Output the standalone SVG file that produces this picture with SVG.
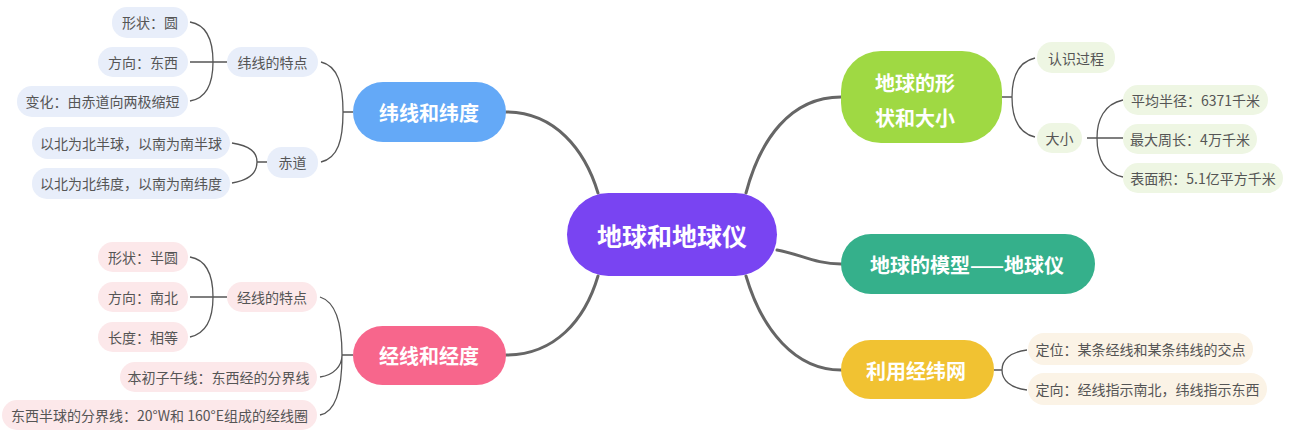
<svg xmlns="http://www.w3.org/2000/svg" width="1290" height="432" viewBox="0 0 1290 432">
<style>
text{font-family:"Noto Sans CJK SC","Noto Sans",sans-serif;text-anchor:middle;dominant-baseline:central}
.main{fill:#fff;font-weight:bold}
.sub{fill:#555;font-size:14px}
.c1{fill:none;stroke:#666;stroke-width:3;stroke-linecap:round}
.c2{fill:none;stroke:#555;stroke-width:1.3}
.pb{fill:#e8eefa}
.pp{fill:#fce8ea}
.pg{fill:#eef6e3}
.py{fill:#fbf3e6}
</style>
<rect width="1290" height="432" fill="#fff"/>
<g id="connectors">
<path class="c1" d="M506,112 C555,112 585,150 598,193"/>
<path class="c1" d="M598,276 C585,320 555,355 506,355"/>
<path class="c1" d="M746,193 C760,140 790,97 841,97"/>
<path class="c1" d="M777,250 C800,254 815,264 841,264"/>
<path class="c1" d="M746,276 C762,330 795,370 841,370"/>
<path class="c2" d="M353,112 L343,112 M321,62 C338,66 343,85 343,112 C343,140 338,158 321,162"/>
<path class="c2" d="M227,62 L190,62 M190,22 C208,25 213,42 213,62 C213,82 208,98 190,101"/>
<path class="c2" d="M267,162 L257,162 M232,143 C250,146 257,152 257,162 C257,172 250,180 232,183"/>
<path class="c2" d="M353,355 L342,355 M320,297 C336,302 342,325 342,355 M320,377 C334,375 342,366 342,355 M320,415 C336,412 342,390 342,355"/>
<path class="c2" d="M227,297 L190,297 M190,257 C208,260 213,277 213,297 C213,317 208,333 190,337"/>
<path class="c2" d="M1002,97 L1012,97 M1035,58 C1018,62 1012,78 1012,97 C1012,117 1018,133 1035,137"/>
<path class="c2" d="M1087,138 L1123,138 M1123,100 C1104,104 1097,120 1097,138 C1097,157 1104,173 1123,177"/>
<path class="c2" d="M994,370 L1002,370 M1027,350 C1010,352 1002,360 1002,370 C1002,380 1010,388 1027,390"/>
</g>
<g id="center">
<rect x="567" y="193" width="210" height="83" rx="41.5" fill="#7944f2"/>
<text class="main" x="672" y="235" font-size="25">地球和地球仪</text>
</g>
<g id="n-weixian">
<rect x="353" y="82" width="153" height="60" rx="30" fill="#64a9f7"/>
<text class="main" x="429" y="112" font-size="20">纬线和纬度</text>
</g>
<g id="n-jingxian">
<rect x="353" y="326" width="153" height="59" rx="29.5" fill="#f7668c"/>
<text class="main" x="429" y="355" font-size="20">经线和经度</text>
</g>
<g id="n-shape">
<rect x="841" y="51" width="161" height="92" rx="40" fill="#9fd943"/>
<text class="main" x="915" y="82" font-size="20">地球的形</text>
<text class="main" x="915" y="117" font-size="20">状和大小</text>
</g>
<g id="n-model">
<rect x="841" y="234" width="254" height="60" rx="30" fill="#35b08b"/>
<text class="main" x="967" y="264" font-size="20">地球的模型——地球仪</text>
</g>
<g id="n-grid">
<rect x="841" y="340" width="153" height="59" rx="29.5" fill="#f1c232"/>
<text class="main" x="916" y="370" font-size="20">利用经纬网</text>
</g>
<g id="n-wx-td">
<rect class="pb" x="227" y="47" width="91" height="30" rx="15"/>
<text class="sub" x="272.5" y="62">纬线的特点</text>
</g>
<g id="n-wx-shape">
<rect class="pb" x="112" y="7" width="76" height="31" rx="15"/>
<text class="sub" x="150" y="22">形状：圆</text>
</g>
<g id="n-wx-dir">
<rect class="pb" x="98" y="47" width="90" height="30" rx="15"/>
<text class="sub" x="143" y="62">方向：东西</text>
</g>
<g id="n-wx-chg">
<rect class="pb" x="17" y="86" width="171" height="31" rx="15"/>
<text class="sub" x="102.5" y="101">变化：由赤道向两极缩短</text>
</g>
<g id="n-chidao">
<rect class="pb" x="267" y="147" width="51" height="31" rx="15"/>
<text class="sub" x="292.5" y="162">赤道</text>
</g>
<g id="n-cd1">
<rect class="pb" x="32" y="127" width="198" height="32" rx="16"/>
<text class="sub" x="131" y="143">以北为北半球，以南为南半球</text>
</g>
<g id="n-cd2">
<rect class="pb" x="32" y="168" width="198" height="31" rx="15"/>
<text class="sub" x="131" y="183">以北为北纬度，以南为南纬度</text>
</g>
<g id="n-jx-td">
<rect class="pp" x="227" y="282" width="90" height="30" rx="15"/>
<text class="sub" x="272" y="297">经线的特点</text>
</g>
<g id="n-jx-shape">
<rect class="pp" x="98" y="242" width="90" height="30" rx="15"/>
<text class="sub" x="143" y="257">形状：半圆</text>
</g>
<g id="n-jx-dir">
<rect class="pp" x="98" y="282" width="90" height="30" rx="15"/>
<text class="sub" x="143" y="297">方向：南北</text>
</g>
<g id="n-jx-len">
<rect class="pp" x="98" y="322" width="90" height="30" rx="15"/>
<text class="sub" x="143" y="337">长度：相等</text>
</g>
<g id="n-jx-bc">
<rect class="pp" x="120" y="362" width="197" height="30" rx="15"/>
<text class="sub" x="218.5" y="377">本初子午线：东西经的分界线</text>
</g>
<g id="n-jx-hemi">
<rect class="pp" x="2" y="400" width="315" height="30" rx="15"/>
<text class="sub" x="159.5" y="415">东西半球的分界线：20°W和 160°E组成的经线圈</text>
</g>
<g id="n-renshi">
<rect class="pg" x="1037" y="42" width="78" height="31" rx="15"/>
<text class="sub" x="1076" y="58">认识过程</text>
</g>
<g id="n-daxiao">
<rect class="pg" x="1037" y="123" width="45" height="30" rx="15"/>
<text class="sub" x="1059.5" y="138">大小</text>
</g>
<g id="n-radius">
<rect class="pg" x="1123" y="85" width="145" height="30" rx="15"/>
<text class="sub" x="1195.5" y="100">平均半径：6371千米</text>
</g>
<g id="n-circ">
<rect class="pg" x="1123" y="124" width="134" height="30" rx="15"/>
<text class="sub" x="1190" y="139">最大周长：4万千米</text>
</g>
<g id="n-area">
<rect class="pg" x="1123" y="163" width="160" height="30" rx="15"/>
<text class="sub" x="1203" y="178">表面积：5.1亿平方千米</text>
</g>
<g id="n-dingwei">
<rect class="py" x="1028" y="333" width="225" height="32" rx="16"/>
<text class="sub" x="1140.5" y="349">定位：某条经线和某条纬线的交点</text>
</g>
<g id="n-dingxiang">
<rect class="py" x="1028" y="373" width="239" height="32" rx="16"/>
<text class="sub" x="1147.5" y="389">定向：经线指示南北，纬线指示东西</text>
</g>
</svg>
